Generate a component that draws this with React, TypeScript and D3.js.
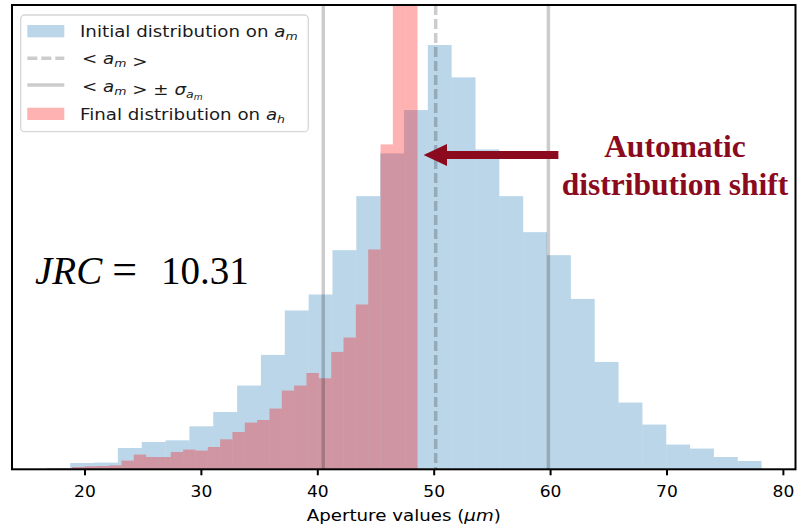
import React from 'react';
import * as d3 from 'd3';

// ---- data ----
const xTicks = [20, 30, 40, 50, 60, 70, 80];
const blueCounts = [1.3, 6.3, 6.7, 21.3, 27.3, 29, 43, 57.3, 83.7, 114.3, 158.7, 174.7, 219, 273, 315.7, 359, 424, 391.7, 319.7, 273, 237, 214, 170.3, 107.3, 66.7, 44.7, 24.7, 20.7, 12.3, 8.3];
const blueRange = [16.68, 78.13];
const redCounts = [0.5, 0.7, 2.3, 3, 3.3, 4, 8.7, 14.7, 12.3, 12.3, 17.3, 19.7, 18.7, 22.3, 30, 37.3, 46.7, 49.3, 60.7, 78.7, 83.7, 96.3, 91, 117.3, 131.7, 164.7, 219.7, 324.7, 560, 620];
const redRange = [16.77, 48.57];
const meanValue = 50.13;
const sigmaValues = [40.47, 59.81];
const arrowData = { tip: 49.09, headBase: 51.1, tail: 60.67, level: 314 };
const xDomain = [13.73, 81.04];
const yMax = 464;

const SX = 1.14; // horizontal stretch of the reference image

function bins(counts: number[], range: number[]) {
  const w = (range[1] - range[0]) / counts.length;
  return counts.map((c, i) => ({ x0: range[0] + i * w, x1: range[0] + (i + 1) * w, c }));
}

export default function App() {
  const W = 797, H = 529;
  const left = 12, right = 795.5, top = 5, bottom = 469.3;
  const x = d3.scaleLinear().domain(xDomain).range([left, right]);
  const y = d3.scaleLinear().domain([0, yMax]).range([bottom, top]);
  const blue = bins(blueCounts, blueRange);
  const red = bins(redCounts, redRange);
  const sans = 'DejaVu Sans';
  const lineCol = 'rgba(0,0,0,0.2)';

  const ay = y(arrowData.level);
  const arrowPath = `M${x(arrowData.tail)},${ay - 4} L${x(arrowData.headBase)},${ay - 4} L${x(arrowData.headBase)},${ay - 11} L${x(arrowData.tip)},${ay} L${x(arrowData.headBase)},${ay + 11} L${x(arrowData.headBase)},${ay + 4} L${x(arrowData.tail)},${ay + 4} Z`;

  const sub = (t: string) => (
    <>
      <tspan fontStyle="italic">a</tspan>
      <tspan fontStyle="italic" fontSize="11" dy="3">{t}</tspan>
      <tspan dy="-3"></tspan>
    </>
  );

  const legendRows = [36.7, 64.4, 92.2, 120];

  return (
    <svg width={W} height={H} style={{ position: 'absolute', left: 0, top: 0, background: '#fff' }}>
      <defs>
        <clipPath id="plotClip">
          <rect x={left} y={top} width={right - left} height={bottom - top} />
        </clipPath>
      </defs>
      <rect x={0} y={0} width={W} height={H} fill="#fff" />
      <g clipPath="url(#plotClip)">
        {blue.map((b, i) => (
          <rect key={'b' + i} x={x(b.x0)} y={y(b.c)} width={x(b.x1) - x(b.x0)} height={bottom - y(b.c)} fill="#1f77b4" fillOpacity={0.3} />
        ))}
        {red.map((b, i) => (
          <rect key={'r' + i} x={x(b.x0)} y={y(b.c)} width={x(b.x1) - x(b.x0)} height={bottom - y(b.c)} fill="#ff0000" fillOpacity={0.3} />
        ))}
        <line x1={x(meanValue)} x2={x(meanValue)} y1={top} y2={bottom} stroke={lineCol} strokeWidth={3.5} strokeDasharray="10,4" />
        {sigmaValues.map((s, i) => (
          <line key={'s' + i} x1={x(s)} x2={x(s)} y1={top} y2={bottom} stroke={lineCol} strokeWidth={3.5} />
        ))}
      </g>
      {/* spines */}
      <rect x={left} y={top} width={right - left} height={bottom - top} fill="none" stroke="#000" strokeWidth={2} />
      {/* x axis ticks */}
      {xTicks.map((t) => (
        <g key={'t' + t}>
          <line x1={x(t)} x2={x(t)} y1={bottom} y2={bottom + 6} stroke="#000" strokeWidth={2} />
          <text transform={`translate(${x(t)},497) scale(${SX},1)`} textAnchor="middle" fontFamily={sans} fontSize={15} fill="#000">{t}</text>
        </g>
      ))}
      <text transform={`translate(${(left + right) / 2},521) scale(${SX},1)`} textAnchor="middle" fontFamily={sans} fontSize={16} fill="#000">
        Aperture values (<tspan fontStyle="italic">μm</tspan>)
      </text>

      {/* legend */}
      <rect x={20.7} y={15} width={287.6} height={116.7} rx={4} fill="rgba(255,255,255,0.8)" stroke="#d6d6d6" strokeWidth={1.3} />
      <rect x={27.3} y={25} width={37} height={12.3} fill="#1f77b4" fillOpacity={0.3} />
      <line x1={27.3} x2={64.3} y1={58.3} y2={58.3} stroke={lineCol} strokeWidth={3.5} strokeDasharray="10,4" />
      <line x1={27.3} x2={64.3} y1={85} y2={85} stroke={lineCol} strokeWidth={3.5} />
      <rect x={27.3} y={107.7} width={37} height={12.3} fill="#ff0000" fillOpacity={0.3} />
      <g fontFamily={sans} fontSize={16} fill="#1a1a1a">
        <text transform={`translate(80,${legendRows[0]}) scale(${SX},1)`}>Initial distribution on {sub('m')}</text>
        <text transform={`translate(82,${legendRows[1]}) scale(${SX},1)`}>&lt; {sub('m')} &gt;</text>
        <text transform={`translate(82,${legendRows[2]}) scale(${SX},1)`}>
          &lt; {sub('m')} &gt; ± <tspan fontStyle="italic">σ</tspan>
          <tspan fontStyle="italic" fontSize="11" dy="3">a</tspan>
          <tspan fontStyle="italic" fontSize="8" dy="2">m</tspan>
          <tspan dy="-5"></tspan>
        </text>
        <text transform={`translate(80,${legendRows[3]}) scale(${SX},1)`}>Final distribution on {sub('h')}</text>
      </g>

      {/* JRC annotation */}
      <text x={35} y={284} fontFamily="Liberation Serif" fontSize={39} fill="#000">
        <tspan fontStyle="italic">JRC</tspan>
        <tspan dx="10" fontSize={44}>=</tspan>
        <tspan dx="24">10.31</tspan>
      </text>

      {/* arrow annotation */}
      <path d={arrowPath} fill="#8b0a1e" />
      <g fontFamily="Liberation Serif" fontWeight="bold" fontSize={31.5} fill="#8b0a1e" textAnchor="middle">
        <text x={675} y={157}>Automatic</text>
        <text x={675} y={194.5}>distribution shift</text>
      </g>
    </svg>
  );
}
